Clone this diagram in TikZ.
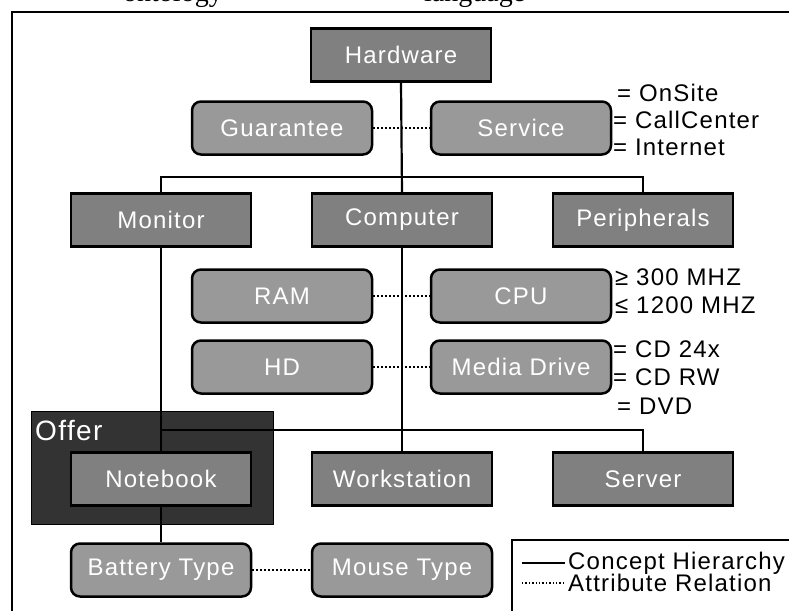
\documentclass[tikz,border=0pt]{standalone}
\usepackage{fontspec}
\setmainfont{Liberation Sans}
\newfontfamily\boxfont[LetterSpace=5]{Liberation Sans}
\newfontfamily\captionfont{Liberation Serif}
\newcommand\bxf{\boxfont\fontsize{24}{28}\selectfont}
\definecolor{conceptgray}{HTML}{808080}
\definecolor{attrgray}{HTML}{999999}
\definecolor{offergray}{HTML}{333333}
\tikzset{
  concept/.style={draw=black, line width=2.5pt, fill=conceptgray,
    minimum width=180pt, minimum height=53pt, inner sep=0pt,
    text=white, font=\bxf},
  attr/.style={concept, fill=attrgray, rounded corners=9pt},
  hier/.style={draw=black, line width=2.2pt},
  attrlink/.style={draw=black, line width=2pt, dotted},
  valuelabel/.style={anchor=west, inner sep=0pt, text=black, font=\bxf},
  frameline/.style={draw=black, line width=2pt}
}
\begin{document}
\begin{tikzpicture}[x=1pt, y=-1pt]
\useasboundingbox (0,0) rectangle (789,610);
\clip (0,0) rectangle (789,610);

% caption line running above the frame
\node[anchor=base west, inner sep=0pt, font=\captionfont\fontsize{28}{30}\selectfont] (capa) at (123,2) {ontology};
\node[anchor=base west, inner sep=0pt, font=\captionfont\fontsize{28}{30}\selectfont] (capb) at (424,2) {language};

% outer frame
\draw[frameline] (12,640) -- (12,12) -- (820,12);

% offer region
\node[draw=black, line width=1pt, fill=offergray, minimum width=242pt, minimum height=113pt, inner sep=0pt] (offer) at (152,467.5) {};
\node[anchor=west, inner sep=0pt, text=white, font=\boxfont\fontsize{28}{32}\selectfont] (offerlabel) at (35,431) {Offer};

% concepts
\node[concept] (hw) at (401,55) {Hardware};
\node[concept] (mon) at (161,220) {Monitor};
\node[concept] (comp) at (402,220) {Computer};
\node[concept] (peri) at (643,220) {Peripherals};
\node[concept] (nb) at (161,479) {Notebook};
\node[concept] (ws) at (402,479) {Workstation};
\node[concept] (srv) at (643,479) {Server};

% attributes
\node[attr] (guar) at (282,128) {Guarantee};
\node[attr] (serv) at (521,128) {Service};
\node[attr] (ram) at (282,296) {RAM};
\node[attr] (cpu) at (521,296) {CPU};
\node[attr] (hd) at (282,367) {HD};
\node[attr] (media) at (521,367) {Media Drive};
\node[attr] (bat) at (161,570) {Battery Type};
\node[attr] (mouse) at (402,570) {Mouse Type};

% concept hierarchy
\coordinate (busa) at (401,177);
\coordinate (busb) at (402,430);
\draw[hier] (hw.south) -- (comp.north);
\draw[hier] (mon.north) |- (busa) -| (peri.north);
\draw[hier] (comp.south) -- (ws.north);
\draw[hier] (mon.south) -- (nb.north);
\draw[hier] (nb.north |- busb) -- (busb) -| (srv.north);
\draw[hier] (nb.south) -- (bat.north);

% attribute relations
\draw[attrlink] (guar.east) -- (serv.west);
\draw[attrlink] (ram.east) -- (cpu.west);
\draw[attrlink] (hd.east) -- (media.west);
\draw[attrlink] (bat.east) -- (mouse.west);

% value restrictions
\node[valuelabel] (sv1) at (617,93) {= OnSite};
\node[valuelabel] (sv2) at (613,120) {= CallCenter};
\node[valuelabel] (sv3) at (613,147) {= Internet};
\node[valuelabel] (cp1) at (615,277) {≥ 300 MHZ};
\node[valuelabel] (cp2) at (615,305) {≤ 1200 MHZ};
\node[valuelabel] (md1) at (613,349) {= CD 24x};
\node[valuelabel] (md2) at (613,377) {= CD RW};
\node[valuelabel] (md3) at (617,406) {= DVD};

% legend
\draw[frameline] (512,640) -- (512,540) -- (820,540);
\coordinate (la) at (522,563);
\coordinate (lb) at (565,563);
\coordinate (lc) at (522,583);
\coordinate (ld) at (565,583);
\draw[line width=1.6pt] (la) -- (lb);
\draw[line width=1.4pt, dotted] (lc) -- (ld);
\node[valuelabel] (lt1) at (568,563) {Concept Hierarchy};
\node[valuelabel] (lt2) at (568,583) {Attribute Relation};
\end{tikzpicture}
\end{document}
